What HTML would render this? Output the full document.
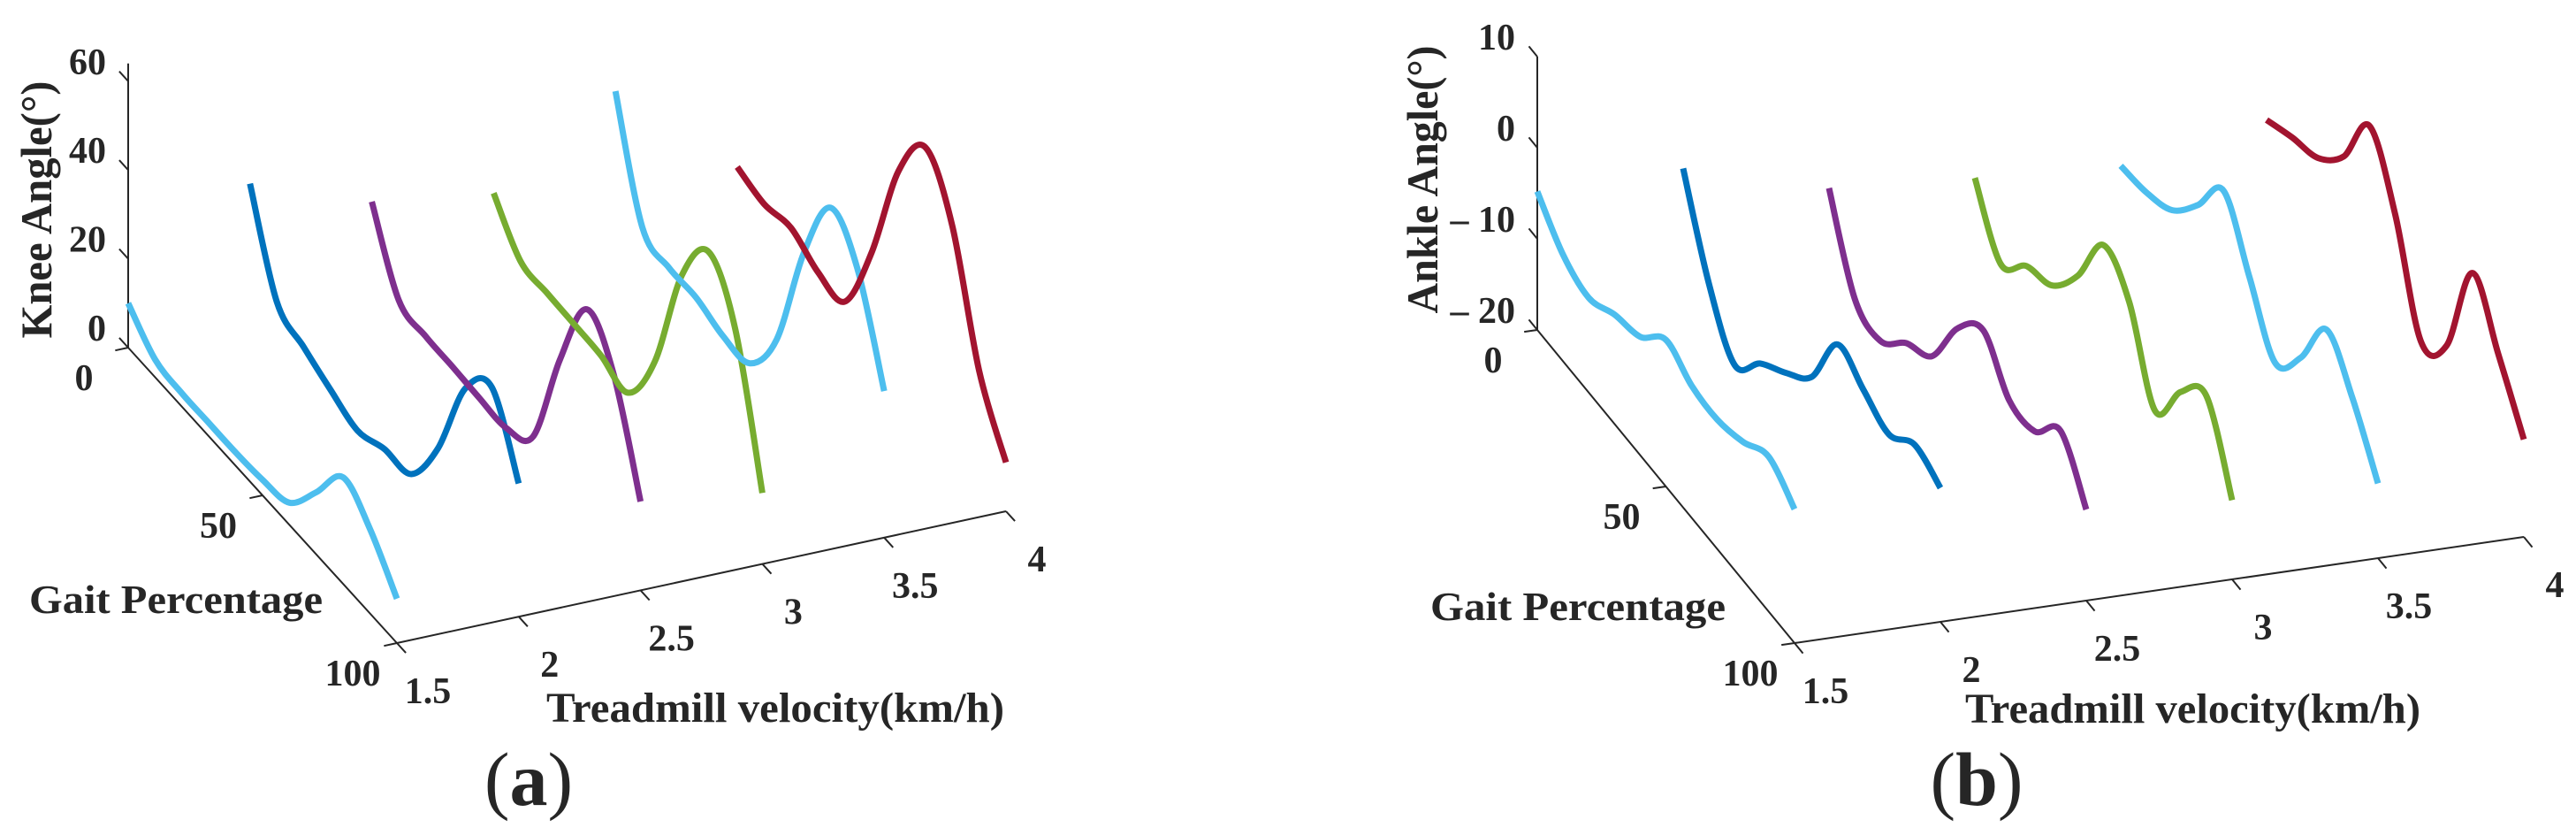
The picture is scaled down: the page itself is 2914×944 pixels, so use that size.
<!DOCTYPE html>
<html><head><meta charset="utf-8"><style>
html,body{margin:0;padding:0;background:#fff;}
svg{display:block;}
text{font-family:"Liberation Serif",serif;fill:#262626;}
</style></head><body>
<svg id="fig" width="2914" height="944" viewBox="0 0 2914 944" xmlns="http://www.w3.org/2000/svg">
<g id="panelA"></g>
<g id="panelB"></g>
<text x="598" y="910" font-size="86" text-anchor="middle">(<tspan font-weight="bold">a</tspan>)</text>
<text x="2236" y="910" font-size="86" text-anchor="middle">(<tspan font-weight="bold">b</tspan>)</text>
</svg>
<script>
const gait = [0,10,20,30,40,50,60,70,80,90,100];
const velocities = [1.5,2,2.5,3,3.5,4];
const seriesColors = ['#4DBEEE','#0072BD','#7E2F8E','#77AC30','#4DBEEE','#A2142F'];
const knee15 = [10,4,3,3,3,3.5,5,14,24,19,10];
const knee20 = [31,11,7.5,4.5,2,4.5,5.5,18,38,45,30];
const knee25 = [21,5.5,4,3.8,3.4,3.3,8,32,50,42,20];
const knee30 = [17,8.3,7.7,7.4,7,5.3,19,45,57,46,16];
const knee35 = [34,10,7.5,7.5,5.5,6,18,44,61,54,33];
const knee40 = [11,9.3,10.6,7.3,7.3,25,50,62,51,25,11];
const ankle15 = [-4.8,-8.3,-9.6,-8,-7,-3.9,-5.5,-5.8,-4.8,-3,-5.3];
const ankle20 = [-4.6,-13.8,-19.3,-15.7,-13.3,-10.3,-3.3,-4.8,-6.3,-4,-5.3];
const ankle25 = [-9.1,-17.8,-19,-15.8,-13.8,-7.3,-4.1,-8.3,-8.3,-4.8,-10];
const ankle30 = [-10.3,-16.3,-13.1,-11.8,-7.3,-0.5,-3.3,-11.8,-6.3,-3.3,-11.3];
const ankle35 = [-11.3,-10.8,-9.3,-5.3,-0.3,-6.3,-12.3,-8.3,-1.8,-5.8,-11.8];
const ankle40 = [-8.6,-7.1,-5.9,-2.3,4.5,-1.8,-12.3,-9.3,2.1,-3.3,-9.3];
const kneeZTicks = [0,20,40,60];
const ankleZTicks = [-20,-10,0,10];
const gaitTicks = [0,50,100];
const velTicks = [1.5,2,2.5,3,3.5,4];

const NS='http://www.w3.org/2000/svg';
function mk(parent,tag,attrs){const e=document.createElementNS(NS,tag);for(const k in attrs)e.setAttribute(k,attrs[k]);parent.appendChild(e);return e;}

function makeProj(o){
  return function(v,g,z){
    const t=(v-1.5)/2.5, u=g/100;
    return [o.ox+u*o.gx+t*o.vx, o.oy+u*o.gy+t*o.vy-(z-o.z0)*o.zs];
  };
}
function smoothPath(pts){
  let d='M'+pts[0][0].toFixed(1)+','+pts[0][1].toFixed(1);
  for(let i=0;i<pts.length-1;i++){
    const p0=pts[Math.max(i-1,0)],p1=pts[i],p2=pts[i+1],p3=pts[Math.min(i+2,pts.length-1)];
    const c1=[p1[0]+(p2[0]-p0[0])/6,p1[1]+(p2[1]-p0[1])/6];
    const c2=[p2[0]-(p3[0]-p1[0])/6,p2[1]-(p3[1]-p1[1])/6];
    d+=' C'+c1[0].toFixed(1)+','+c1[1].toFixed(1)+' '+c2[0].toFixed(1)+','+c2[1].toFixed(1)+' '+p2[0].toFixed(1)+','+p2[1].toFixed(1);
  }
  return d;
}
function drawPanel(g,o,series,zTicks,zTop,opt){
  const P=makeProj(o);
  const gu=[o.gx/100,o.gy/100]; const gl=Math.hypot(o.gx,o.gy);
  const vl=Math.hypot(o.vx,o.vy);
  // axes
  const a0=P(1.5,0,o.z0), aT=P(1.5,0,zTop), a1=P(1.5,100,o.z0), a2=P(4,100,o.z0);
  const zAxis=mk(g,'line',{x1:a0[0],y1:a0[1],x2:aT[0],y2:aT[1],stroke:'#262626','stroke-width':2});
  
  
  const gAxis=mk(g,'line',{x1:a0[0],y1:a0[1],x2:a1[0],y2:a1[1],stroke:'#262626','stroke-width':2});
  
  
  const vAxis=mk(g,'line',{x1:a1[0],y1:a1[1],x2:a2[0],y2:a2[1],stroke:'#262626','stroke-width':2});
  
  
  const T=15;
  zTicks.forEach((z,i)=>{
    const p=P(1.5,0,z);
    const tk=mk(g,'line',{x1:p[0],y1:p[1],x2:p[0]-o.gx/gl*T,y2:p[1]-o.gy/gl*T,stroke:'#262626','stroke-width':2});
    
    
    const lab=mk(g,'text',{x:p[0]-25,y:p[1]-8,'font-size':42,'font-weight':'bold','text-anchor':'end'});
    lab.textContent=z<0?('\u2013 '+Math.abs(z)):String(z);
    
    
  });
  gaitTicks.forEach(gv=>{
    const p=P(1.5,gv,o.z0);
    const tk=mk(g,'line',{x1:p[0],y1:p[1],x2:p[0]-o.vx/vl*T,y2:p[1]-o.vy/vl*T,stroke:'#262626','stroke-width':2});
    
    
    const lab=mk(g,'text',{x:p[0]-50,y:p[1]+48,'font-size':42,'font-weight':'bold','text-anchor':'middle'});
    lab.textContent=String(gv);
    
    
  });
  velTicks.forEach(v=>{
    const p=P(v,100,o.z0);
    const tk=mk(g,'line',{x1:p[0],y1:p[1],x2:p[0]+o.gx/gl*T,y2:p[1]+o.gy/gl*T,stroke:'#262626','stroke-width':2});
    
    
    const lab=mk(g,'text',{x:p[0]+35,y:p[1]+68,'font-size':42,'font-weight':'bold','text-anchor':'middle'});
    lab.textContent=String(v);
    
    
  });
  series.forEach((vals,k)=>{
    const pts=gait.map((gv,i)=>P(velocities[k],gv,vals[i]));
    const path=mk(g,'path',{d:smoothPath(pts),fill:'none',stroke:seriesColors[k],'stroke-width':7,'stroke-linejoin':'round'});
    
    
  });
  const t1=mk(g,'text',{x:opt.gpX,y:opt.gpY,'font-size':46,'font-weight':'bold',textLength:opt.gpW,lengthAdjust:'spacingAndGlyphs'});
  t1.textContent='Gait Percentage';
  
  
  const t2=mk(g,'text',{x:opt.tvX,y:opt.tvY,'font-size':48,'font-weight':'bold',textLength:opt.tvW,lengthAdjust:'spacingAndGlyphs'});
  t2.textContent='Treadmill velocity(km/h)';
  
  
  const t3=mk(g,'text',{x:0,y:0,'font-size':50,'font-weight':'bold','text-anchor':'middle',textLength:opt.zlW,lengthAdjust:'spacingAndGlyphs',transform:'translate('+opt.zlX+','+opt.zlY+') rotate(-90)'});
  t3.textContent=opt.zTitle;
  
  
}
drawPanel(document.getElementById('panelA'),
  {ox:145,oy:393,gx:304,gy:334,vx:689,vy:-149,zs:5.02,z0:0},
  [knee15,knee20,knee25,knee30,knee35,knee40],kneeZTicks,64,
  {gpX:33,gpY:693,gpW:332,tvX:618,tvY:816,tvW:518,zlX:58,zlY:237,zlW:291,zTitle:'Knee Angle(°)'});
drawPanel(document.getElementById('panelB'),
  {ox:1739,oy:373,gx:291,gy:354,vx:825,vy:-120,zs:10.3,z0:-20},
  [ankle15,ankle20,ankle25,ankle30,ankle35,ankle40],ankleZTicks,10,
  {gpX:1618,gpY:701,gpW:334,tvX:2223,tvY:817,tvW:515,zlX:1626,zlY:203,zlW:303,zTitle:'Ankle Angle(°)'});
</script>
</body></html>
